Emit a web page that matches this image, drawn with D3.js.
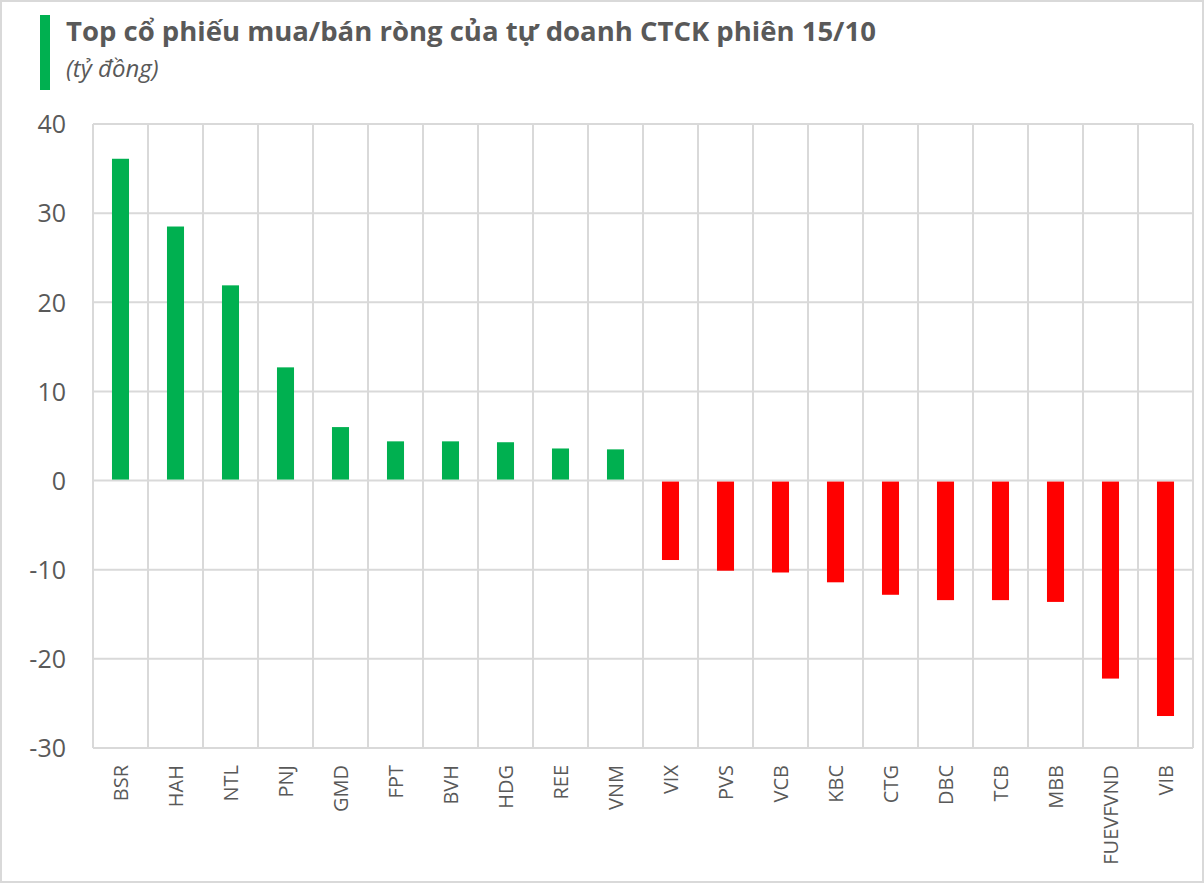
<!DOCTYPE html>
<html>
<head>
<meta charset="utf-8">
<script src="https://cdn.jsdelivr.net/npm/d3@7"></script>
<style>
  body { margin: 0; background: #fff; }
  svg { display: block; font-family: "Open Sans", "Noto Sans", sans-serif; }
  .grid line { stroke: #d9d9d9; stroke-width: 2; }
  .tick text { fill: #595959; }
</style>
</head>
<body>
<svg id="chart" width="1204" height="883"></svg>
<script>
'use strict'

// tickers, net buy/sell (ty dong)
const tickers = ['BSR','HAH','NTL','PNJ','GMD','FPT','BVH','HDG','REE','VNM',
                 'VIX','PVS','VCB','KBC','CTG','DBC','TCB','MBB','FUEVFVND','VIB']
const values = [36.1, 28.5, 21.9, 12.7, 6.0, 4.4, 4.4, 4.3, 3.6, 3.5,
                -8.8, -10.0, -10.2, -11.3, -12.7, -13.3, -13.3, -13.5, -22.1, -26.3]
const yTicks = [40, 30, 20, 10, 0, -10, -20, -30]

const data = tickers.map((t, i) => ({ name: t, value: values[i] }))

const margins = {top: 124, right: 11, bottom: 135, left: 93}
const W = 1204, H = 883
const chartWidth = W - margins.left - margins.right
const chartHeight = H - margins.top - margins.bottom

const svg = d3.select('#chart')

// outer border
svg.append('rect')
  .attr('x', 1).attr('y', 1).attr('width', W - 2).attr('height', H - 2)
  .attr('fill', '#fff').attr('stroke', '#d9d9d9').attr('stroke-width', 2)

// title block
svg.append('rect').attr('x', 40).attr('y', 15).attr('width', 10).attr('height', 75).attr('fill', '#00b050')
svg.append('text')
  .attr('x', 66).attr('y', 41)
  .attr('font-size', 27.5).attr('font-weight', 'bold').attr('fill', '#595959')
  .text('Top cổ phiếu mua/bán ròng của tự doanh CTCK phiên 15/10')
svg.append('text')
  .attr('x', 66).attr('y', 77)
  .attr('font-size', 24).attr('font-style', 'italic').attr('fill', '#595959')
  .text('(tỷ đồng)')

const g = svg.append('g').attr('transform', 'translate(' + margins.left + ',' + margins.top + ')')

const x = d3.scaleBand().domain(tickers).range([0, chartWidth]).paddingInner(0.69).paddingOuter(0.345)
const xGrid = d3.scaleBand().domain(tickers).range([0, chartWidth])
const y = d3.scaleLinear().domain([-30, 40]).range([chartHeight, 0])

// horizontal grid lines
g.append('g').attr('class', 'grid')
  .selectAll('line').data(yTicks).enter().append('line')
  .attr('x1', 0).attr('x2', chartWidth)
  .attr('y1', d => y(d)).attr('y2', d => y(d))

// vertical grid lines (category boundaries)
g.append('g').attr('class', 'grid')
  .selectAll('line').data(tickers.concat(['_end'])).enter().append('line')
  .attr('x1', (d, i) => i * xGrid.step()).attr('x2', (d, i) => i * xGrid.step())
  .attr('y1', 0).attr('y2', chartHeight)

// bars
g.selectAll('.bar').data(data).enter().append('rect')
  .attr('class', 'bar')
  .attr('x', d => x(d.name))
  .attr('width', x.bandwidth())
  .attr('y', d => d.value >= 0 ? y(d.value) : y(0) + 1)
  .attr('height', d => Math.abs(y(d.value) - y(0)) - (d.value >= 0 ? 1 : 0))
  .attr('fill', d => d.value >= 0 ? '#00b050' : '#ff0000')

// y axis
const yAxis = g.append('g')
  .call(d3.axisLeft(y).tickValues(yTicks).tickSize(0).tickPadding(27).tickFormat(d => String(d)))
yAxis.select('.domain').remove()
yAxis.selectAll('text').attr('font-size', 25).attr('font-family', '"Open Sans", sans-serif').attr('dy', '0.35em')

// x axis
const xAxis = g.append('g')
  .attr('transform', 'translate(0,' + chartHeight + ')')
  .call(d3.axisBottom(x).tickSize(0))
xAxis.select('.domain').remove()
xAxis.selectAll('text')
  .attr('font-size', 20).attr('font-family', '"Open Sans", sans-serif')
  .attr('transform', 'rotate(-90)')
  .attr('text-anchor', 'end')
  .attr('x', -17).attr('y', 0).attr('dy', '0.35em')
</script>
</body>
</html>
